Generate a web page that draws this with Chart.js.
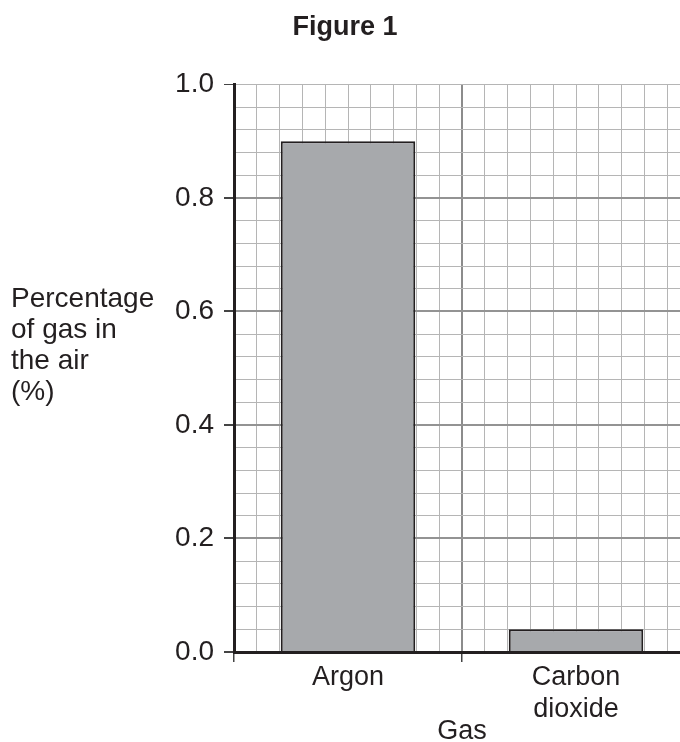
<!DOCTYPE html>
<html>
<head>
<meta charset="utf-8">
<script src="https://cdn.jsdelivr.net/npm/chart.js@4/dist/chart.umd.min.js"></script>
<style>
  html, body { margin: 0; padding: 0; background: #fff; overflow: hidden; }
  #wrap { position: relative; width: 690px; height: 742px; }
</style>
</head>
<body>
<div id="wrap"><canvas id="chart"></canvas></div>
<script>
// Figure 1 - percentage of gas in the air
const gases = [['Argon'], ['Carbon', 'dioxide']];
const percentages = [0.9, 0.04];
const yLabelLines = ['Percentage', 'of gas in', 'the air', '(%)'];

const INK = '#231f20';
const FONT = '"Liberation Sans", Arial, sans-serif';

const isMajor = (v, step) => Math.abs(v / step - Math.round(v / step)) < 1e-6;

// y axis label is horizontal text to the left of the tick labels
const sideLabel = {
  id: 'sideLabel',
  afterDraw(chart) {
    const ctx = chart.ctx;
    ctx.save();
    ctx.fillStyle = INK;
    ctx.font = `28px ${FONT}`;
    ctx.textAlign = 'left';
    ctx.textBaseline = 'alphabetic';
    yLabelLines.forEach((line, i) => ctx.fillText(line, 11, 307 + i * 31));
    ctx.restore();
  }
};

new Chart(document.getElementById('chart'), {
  type: 'bar',
  data: {
    labels: gases,
    datasets: [{
      data: percentages,
      backgroundColor: '#a7a9ac',
      borderColor: INK,
      borderWidth: 2,
      barPercentage: 0.59,
      categoryPercentage: 1,
    }],
  },
  options: {
    responsive: true,
    maintainAspectRatio: false,
    animation: false,
    layout: { padding: { left: 0, right: 0, top: 0, bottom: 0 } },
    plugins: {
      legend: { display: false },
      tooltip: { enabled: false },
      title: {
        display: true,
        text: 'Figure 1',
        color: INK,
        font: { family: FONT, size: 27, weight: 'bold' },
        padding: { top: 11, bottom: 41 },
      },
    },
    scales: {
      x: {
        offset: true,
        grid: { drawOnChartArea: false, drawTicks: true, tickLength: 10, tickColor: '#444', lineWidth: 1.5 },
        border: { color: INK, width: 3 },
        ticks: {
          color: INK,
          font: { family: FONT, size: 27, lineHeight: 1.18 },
          padding: 0,
          maxRotation: 0,
        },
        title: {
          display: true,
          text: 'Gas',
          color: INK,
          font: { family: FONT, size: 27, lineHeight: 1 },
          padding: { top: 0, bottom: -3 },
        },
        afterFit: (scale) => { scale.height = 90; },
      },
      // graph paper: minor vertical lines, one every cell
      paper: {
        type: 'linear',
        position: 'top',
        min: 0,
        max: 20,
        offset: false,
        ticks: { display: false, stepSize: 1 },
        border: { display: false },
        grid: {
          offset: false,
          drawTicks: false,
          color: (c) => c.tick && c.tick.value % 10 === 0 ? '#8c8c8c' : '#b5b5b5',
          lineWidth: (c) => c.tick && c.tick.value % 10 === 0 ? 2 : 1,
        },
        afterFit: (scale) => { scale.height = 0; },
      },
      y: {
        min: 0,
        max: 1,
        ticks: {
          stepSize: 0.04,
          autoSkip: false,
          color: INK,
          padding: 10,
          font: { family: FONT, size: 28 },
          callback: (v) => isMajor(v, 0.2) ? v.toFixed(1) : '',
        },
        grid: {
          tickLength: 10,
          tickColor: (c) => c.tick && isMajor(c.tick.value, 0.2) ? '#444' : 'rgba(0,0,0,0)',
          color: (c) => {
            if (!c.tick) return '#b5b5b5';
            const v = c.tick.value;
            return isMajor(v, 0.2) && v < 0.99 ? '#939393' : '#b5b5b5';
          },
          lineWidth: (c) => c.tick && isMajor(c.tick.value, 0.2) && c.tick.value < 0.99 ? 2 : 1,
        },
        border: { color: INK, width: 3 },
        afterFit: (scale) => { scale.width = 234; },
      },
    },
  },
  plugins: [sideLabel],
});
</script>
</body>
</html>
